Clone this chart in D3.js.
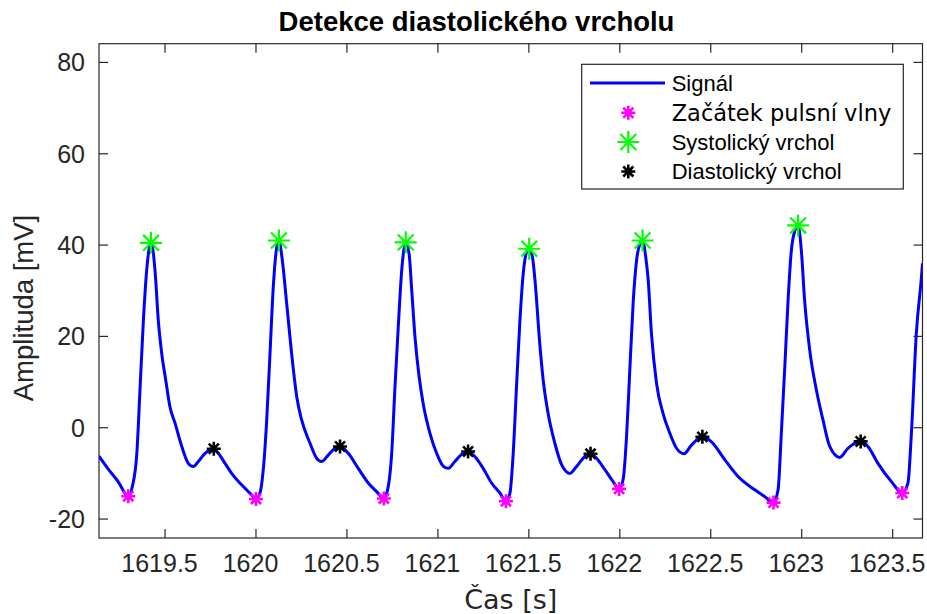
<!DOCTYPE html>
<html>
<head>
<meta charset="utf-8">
<script src="https://cdn.jsdelivr.net/npm/d3@7/dist/d3.min.js"></script>
<style>
  html, body { margin: 0; padding: 0; background: #fff; }
  svg { display: block; }
</style>
</head>
<body>
<svg id="chart" width="927" height="614"></svg>
<script>
// Pulse wave signal (time in s, amplitude in mV)
const signalTime = [
  1619.137, 1619.187, 1619.242, 1619.298, 1619.320, 1619.345, 1619.363, 1619.381, 1619.399, 1619.414,
  1619.423, 1619.445, 1619.463, 1619.482, 1619.504, 1619.527, 1619.555, 1619.592, 1619.628, 1619.655,
  1619.683, 1619.720, 1619.757, 1619.768, 1619.793, 1619.830, 1619.866, 1619.921, 1619.976, 1620.000,
  1620.022, 1620.040, 1620.059, 1620.077, 1620.095, 1620.114, 1620.126, 1620.145, 1620.169, 1620.196,
  1620.224, 1620.251, 1620.297, 1620.334, 1620.361, 1620.397, 1620.434, 1620.462, 1620.507, 1620.562,
  1620.617, 1620.663, 1620.703, 1620.727, 1620.746, 1620.764, 1620.782, 1620.801, 1620.815, 1620.823,
  1620.842, 1620.855, 1620.874, 1620.897, 1620.919, 1620.956, 1620.993, 1621.029, 1621.057, 1621.093,
  1621.139, 1621.166, 1621.203, 1621.249, 1621.295, 1621.341, 1621.374, 1621.396, 1621.414, 1621.432,
  1621.451, 1621.469, 1621.487, 1621.502, 1621.520, 1621.537, 1621.557, 1621.579, 1621.606, 1621.643,
  1621.680, 1621.725, 1621.762, 1621.808, 1621.839, 1621.872, 1621.918, 1621.963, 1621.996, 1622.018,
  1622.037, 1622.055, 1622.073, 1622.092, 1622.110, 1622.125, 1622.147, 1622.155, 1622.174, 1622.202,
  1622.238, 1622.275, 1622.312, 1622.353, 1622.394, 1622.454, 1622.504, 1622.577, 1622.650, 1622.742,
  1622.797, 1622.845, 1622.870, 1622.888, 1622.907, 1622.925, 1622.943, 1622.962, 1622.980, 1622.998,
  1623.016, 1623.044, 1623.081, 1623.117, 1623.154, 1623.209, 1623.254, 1623.324, 1623.364, 1623.419,
  1623.493, 1623.553, 1623.584, 1623.603, 1623.630, 1623.658, 1623.664
];
const signalAmp = [
  -6.2, -9.0, -11.8, -15.0, -12.9, -5.6, 8.9, 23.5, 34.4, 39.5,
  40.5, 34.4, 23.5, 16.2, 10.4, 4.6, 1.0, -4.1, -7.8, -8.5,
  -7.4, -5.6, -4.7, -4.6, -5.6, -7.8, -10.0, -12.5, -14.7, -15.6,
  -14.3, -9.2, 1.7, 16.2, 30.8, 39.5, 41.0, 36.6, 27.1, 16.2,
  6.8, 1.7, -3.4, -6.7, -7.4, -6.0, -4.5, -4.1, -5.6, -8.9,
  -12.1, -14.0, -15.5, -12.9, -5.6, 8.9, 22.0, 34.4, 39.5, 40.6,
  38.0, 30.8, 19.9, 11.1, 5.3, -1.2, -5.6, -8.4, -8.9, -7.4,
  -5.6, -5.2, -6.3, -8.9, -12.1, -14.3, -16.1, -14.3, -5.6, 8.9,
  23.5, 33.7, 38.4, 39.2, 37.3, 30.8, 19.9, 10.4, 3.1, -3.4,
  -8.1, -10.0, -8.5, -6.3, -5.7, -6.7, -9.2, -11.8, -13.4, -11.4,
  -2.0, 12.6, 27.1, 36.6, 40.2, 41.0, 35.9, 32.9, 20.6, 9.7,
  3.1, -1.2, -4.5, -5.7, -3.8, -2.0, -3.1, -7.0, -10.7, -13.6,
  -15.1, -16.4, -13.6, -1.2, 13.3, 27.9, 38.8, 43.1, 44.3, 38.8,
  27.9, 17.0, 8.2, 1.7, -4.1, -6.5, -4.5, -3.0, -4.1, -7.8,
  -11.8, -14.3, -12.1, -1.2, 20.6, 32.9, 36.0
];

// Detected points
const onsetTime = [1619.298, 1620.000, 1620.703, 1621.374, 1621.996, 1622.845, 1623.553];
const onsetAmp  = [-15.0, -15.6, -15.5, -16.1, -13.4, -16.4, -14.3];
const sysTime   = [1619.423, 1620.126, 1620.823, 1621.502, 1622.125, 1622.980];
const sysAmp    = [40.5, 41.0, 40.6, 39.2, 41.0, 44.3];
const diaTime   = [1619.768, 1620.462, 1621.166, 1621.839, 1622.454, 1623.324];
const diaAmp    = [-4.6, -4.1, -5.2, -5.7, -2.0, -3.0];

// Axis ticks and labels
const xTicks = [1619.5, 1620, 1620.5, 1621, 1621.5, 1622, 1622.5, 1623, 1623.5];
const yTicks = [-20, 0, 20, 40, 60, 80];
const titleText = "Detekce diastolického vrcholu";
const xLabel = "Čas [s]";
const yLabel = "Amplituda [mV]";
const legendLabels = ["Signál", "Začátek pulsní vlny", "Systolický vrchol", "Diastolický vrchol"];

const axisColor = "#262626";
const sans = "'Liberation Sans', Arial, Helvetica, sans-serif";
const dejavu = "'DejaVu Sans', sans-serif";

const svg = d3.select("#chart");
const plot = { left: 99, right: 922.5, top: 43.7, bottom: 538 };

const x = d3.scaleLinear().domain([1619.137, 1623.664]).range([plot.left, plot.right]);
const y = d3.scaleLinear().domain([-24.15, 84.1]).range([plot.bottom, plot.top]);

svg.append("rect").attr("width", 927).attr("height", 614).attr("fill", "#fff");

// Clip region for the data
svg.append("clipPath").attr("id", "plotClip")
  .append("rect")
  .attr("x", plot.left).attr("y", plot.top)
  .attr("width", plot.right - plot.left).attr("height", plot.bottom - plot.top);

// Asterisk marker path
function asterisk(r) {
  const d = r * 0.72;
  return `M${-r},0L${r},0M0,${-r}L0,${r}M${-d},${-d}L${d},${d}M${-d},${d}L${d},${-d}`;
}

const dataLayer = svg.append("g").attr("clip-path", "url(#plotClip)");

const signal = signalTime.map((t, i) => [t, signalAmp[i]]);
const line = d3.line()
  .x(d => x(d[0]))
  .y(d => y(d[1]))
  .curve(d3.curveMonotoneX);

dataLayer.append("path")
  .datum(signal)
  .attr("d", line)
  .attr("fill", "none")
  .attr("stroke", "#0000ff")
  .attr("stroke-width", 3)
  .attr("stroke-linejoin", "round");

function drawMarkers(times, amps, color, r, w) {
  dataLayer.append("g").selectAll("path")
    .data(times.map((t, i) => [t, amps[i]]))
    .join("path")
    .attr("transform", d => `translate(${x(d[0])},${y(d[1])})`)
    .attr("d", asterisk(r))
    .attr("fill", "none")
    .attr("stroke", color)
    .attr("stroke-width", w);
}
drawMarkers(onsetTime, onsetAmp, "#ff00ff", 7, 2.6);
drawMarkers(sysTime, sysAmp, "#00ff00", 11, 2.2);
drawMarkers(diaTime, diaAmp, "#000000", 7, 2.6);

// Axes box
const axes = svg.append("g");
axes.append("rect")
  .attr("x", plot.left).attr("y", plot.top)
  .attr("width", plot.right - plot.left).attr("height", plot.bottom - plot.top)
  .attr("fill", "none").attr("stroke", axisColor).attr("stroke-width", 1.2);

const tickLen = 9;
xTicks.forEach(t => {
  const px = x(t);
  axes.append("line").attr("x1", px).attr("x2", px)
    .attr("y1", plot.bottom).attr("y2", plot.bottom - tickLen)
    .attr("stroke", axisColor).attr("stroke-width", 1.2);
  axes.append("line").attr("x1", px).attr("x2", px)
    .attr("y1", plot.top).attr("y2", plot.top + tickLen)
    .attr("stroke", axisColor).attr("stroke-width", 1.2);
  axes.append("text")
    .attr("x", px - 5.5).attr("y", plot.bottom + 34)
    .attr("text-anchor", "middle")
    .attr("font-family", sans).attr("font-size", 25)
    .attr("fill", axisColor)
    .text(d3.format("")(t));
});
yTicks.forEach(v => {
  const py = y(v);
  axes.append("line").attr("x1", plot.left).attr("x2", plot.left + tickLen)
    .attr("y1", py).attr("y2", py)
    .attr("stroke", axisColor).attr("stroke-width", 1.2);
  axes.append("line").attr("x1", plot.right).attr("x2", plot.right - tickLen)
    .attr("y1", py).attr("y2", py)
    .attr("stroke", axisColor).attr("stroke-width", 1.2);
  axes.append("text")
    .attr("x", plot.left - 14).attr("y", py)
    .attr("dy", "0.36em")
    .attr("text-anchor", "end")
    .attr("font-family", sans).attr("font-size", 25)
    .attr("fill", axisColor)
    .text(v);
});

// Title and axis labels
svg.append("text")
  .attr("x", 476.5).attr("y", 30.7)
  .attr("text-anchor", "middle")
  .attr("font-family", sans).attr("font-size", 27.5).attr("font-weight", "bold")
  .attr("fill", "#000")
  .text(titleText);

svg.append("text")
  .attr("x", (plot.left + plot.right) / 2).attr("y", 609)
  .attr("text-anchor", "middle")
  .attr("font-family", dejavu).attr("font-size", 27)
  .attr("fill", axisColor)
  .text(xLabel);

svg.append("text")
  .attr("transform", "translate(33,308) rotate(-90)")
  .attr("text-anchor", "middle")
  .attr("font-family", sans).attr("font-size", 27.5)
  .attr("fill", axisColor)
  .text(yLabel);

// Legend
const legend = svg.append("g");
legend.append("rect")
  .attr("x", 581.7).attr("y", 64.3)
  .attr("width", 903.3 - 581.7).attr("height", 189 - 64.3)
  .attr("fill", "#fff").attr("stroke", axisColor).attr("stroke-width", 1.2);

const rowY = [83, 112.8, 142, 171.5];
legend.append("line")
  .attr("x1", 590).attr("x2", 665).attr("y1", rowY[0]).attr("y2", rowY[0])
  .attr("stroke", "#0000ff").attr("stroke-width", 3);
const legendMarkers = [
  { color: "#ff00ff", r: 7, w: 2.6 },
  { color: "#00ff00", r: 11, w: 2.2 },
  { color: "#000000", r: 7, w: 2.6 }
];
legendMarkers.forEach((m, i) => {
  legend.append("path")
    .attr("transform", `translate(628.3,${rowY[i + 1]})`)
    .attr("d", asterisk(m.r))
    .attr("fill", "none").attr("stroke", m.color).attr("stroke-width", m.w);
});
legendLabels.forEach((label, i) => {
  legend.append("text")
    .attr("x", 671.7).attr("y", rowY[i])
    .attr("dy", "0.36em")
    .attr("font-family", i === 1 ? dejavu : sans)
    .attr("font-size", i === 1 ? 22.5 : 22)
    .attr("fill", "#000")
    .text(label);
});
</script>
</body>
</html>
